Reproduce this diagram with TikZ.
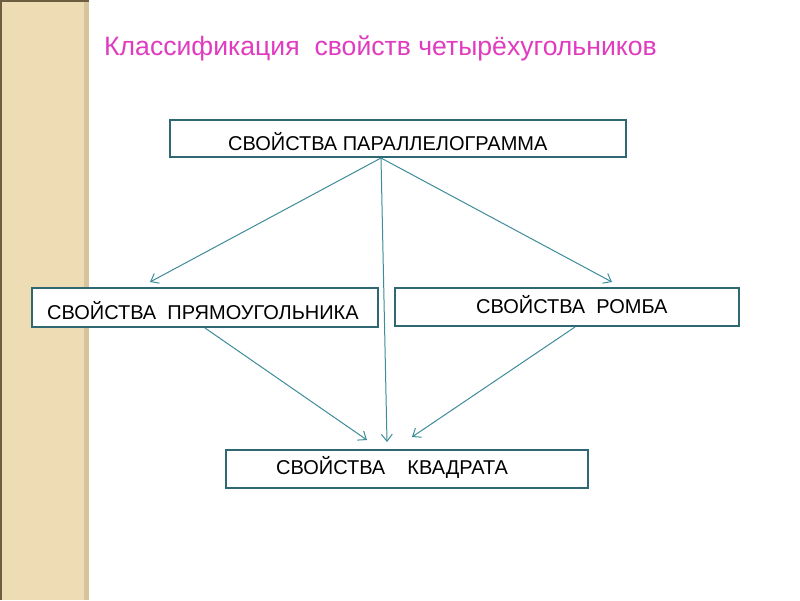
\documentclass[tikz,border=0pt]{standalone}
\usepackage{fontspec}
\setmainfont{Liberation Sans}
\usetikzlibrary{arrows.meta}
\definecolor{strip}{HTML}{EEDDB4}
\definecolor{stripedge}{HTML}{D6C49C}
\definecolor{stripdark}{HTML}{6E5E40}
\definecolor{boxline}{HTML}{2F6872}
\definecolor{arrowline}{HTML}{3E8C9A}
\definecolor{titlepink}{HTML}{E03CC0}
\tikzset{
  propbox/.style={draw=boxline, line width=2pt, fill=white, inner sep=0pt},
  proptext/.style={font=\fontsize{20}{22}\selectfont, anchor=west, inner sep=0pt, text=black},
  conn/.style={draw=arrowline, line width=1pt, -{Straight Barb[length=7pt,width=11pt,line width=1pt]}}
}
\begin{document}
\begin{tikzpicture}[x=1pt,y=-1pt]
\useasboundingbox (0,0) rectangle (800,600);
\fill[white] (0,0) rectangle (800,600);
% left decorative strip
\fill[strip] (0,0) rectangle (89,600);
\fill[stripedge] (84,0) rectangle (89,600);
\fill[stripdark] (0,0) rectangle (2,600);
\fill[stripdark] (0,0) rectangle (89,1.5);
% title
\node[anchor=west, inner sep=0pt, text=titlepink, font=\fontsize{26.6}{30}\selectfont] (title) at (104,48) {Классификация\ \ свойств четырёхугольников};
% boxes
\node[propbox, minimum width=456pt, minimum height=37pt] (par) at (398,138.5) {};
\node[propbox, minimum width=346pt, minimum height=39pt] (rect) at (205,307.5) {};
\node[propbox, minimum width=344pt, minimum height=38pt] (romb) at (567,307) {};
\node[propbox, minimum width=362pt, minimum height=38pt] (sq) at (407,469) {};
% texts
\node[proptext] (tpar) at (228,142) {СВОЙСТВА ПАРАЛЛЕЛОГРАММА};
\node[proptext] (trect) at (47,311) {СВОЙСТВА\ \ ПРЯМОУГОЛЬНИКА};
\node[proptext] (tromb) at (476,305) {СВОЙСТВА\ \ РОМБА};
\node[proptext] (tsq) at (276,467) {СВОЙСТВА\ \ \ \ КВАДРАТА};
% connector ends
\coordinate (pstart) at (381,158);
\coordinate (rstart) at (205,328);
\coordinate (mstart) at (575,327);
\coordinate (eRect) at (150,282);
\coordinate (eRomb) at (612,282);
\coordinate (eSq1) at (367,440);
\coordinate (eSq2) at (387,442);
\coordinate (eSq3) at (412,437);
\draw[conn] (pstart) -- (eRect);
\draw[conn] (pstart) -- (eSq2);
\draw[conn] (pstart) -- (eRomb);
\draw[conn] (rstart) -- (eSq1);
\draw[conn] (mstart) -- (eSq3);
\end{tikzpicture}
\end{document}
